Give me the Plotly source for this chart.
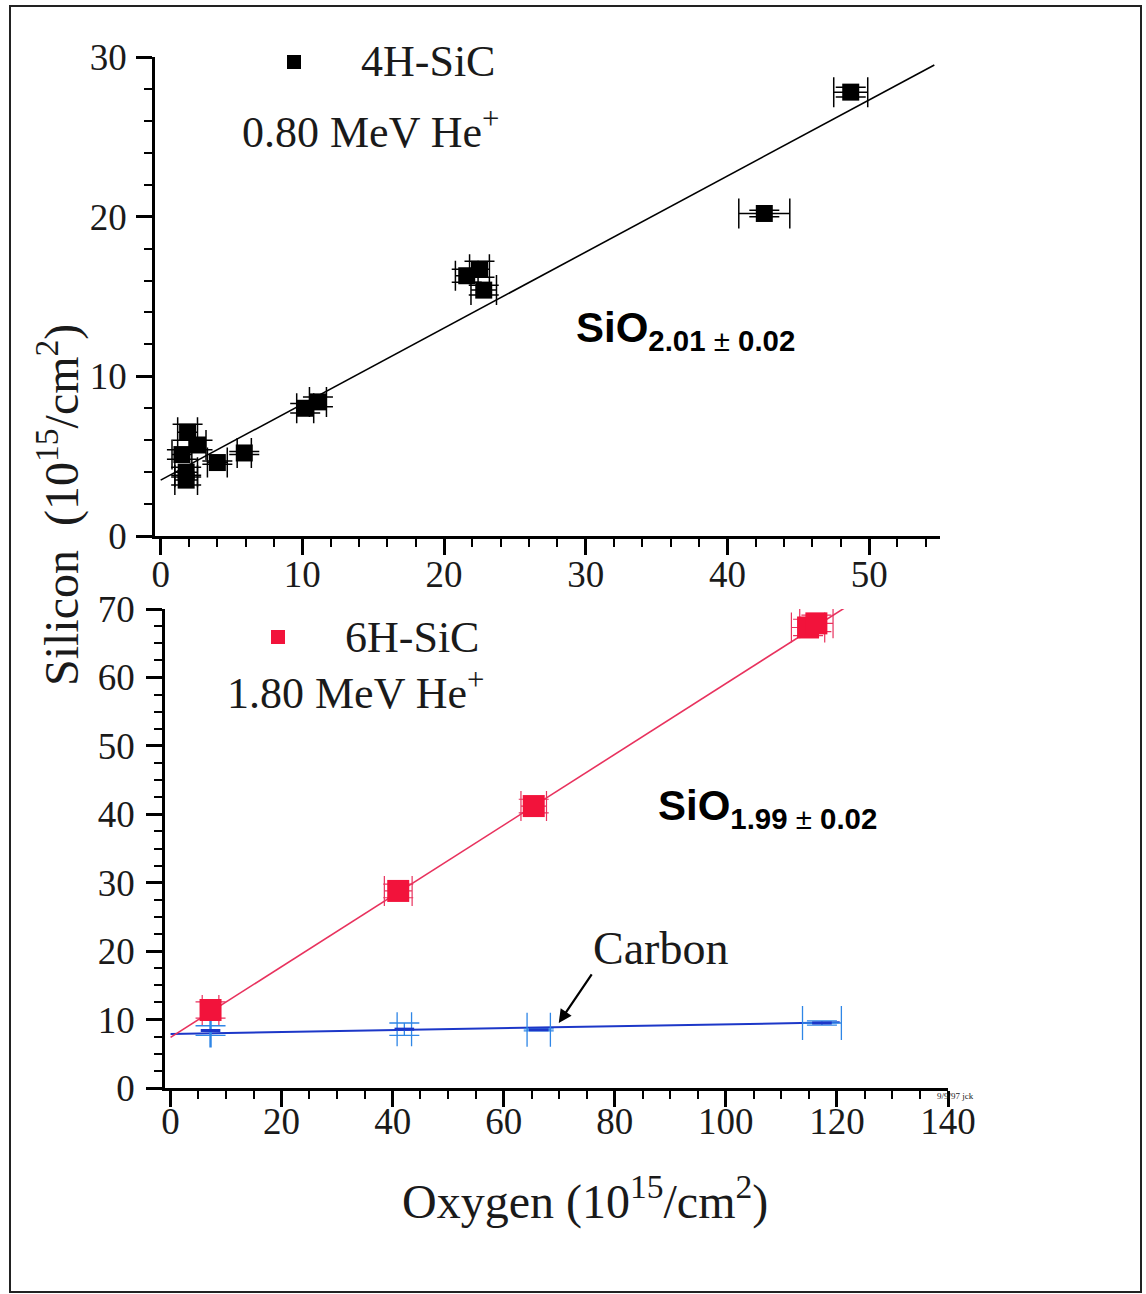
import plotly.graph_objects as go

W, H = 1146, 1294


def px(x):
    return x / W


def py(y):
    return 1 - y / H


# ---------------- data ----------------
# Top panel: 4H-SiC, 0.80 MeV He+
top_oxygen = [1.9, 1.5, 2.6, 1.8, 1.8, 4.0, 5.9, 10.2, 11.1, 21.6, 22.5, 22.8, 42.6, 48.7]
top_silicon = [6.5, 5.1, 5.7, 4.0, 3.5, 4.6, 5.2, 8.0, 8.4, 16.3, 16.7, 15.4, 20.2, 27.8]
top_oxygen_err = [0.7, 0.7, 0.6, 0.8, 0.8, 0.7, 0.5, 0.6, 0.6, 0.8, 0.7, 0.9, 1.8, 1.2]
top_silicon_err = [0.5, 0.3, 0.3, 0.3, 0.3, 0.1, 0.1, 0.3, 0.3, 0.4, 0.5, 0.3, 0.2, 0.3]
top_fit_x = [0.0, 54.6]
top_fit_y = [3.5, 29.5]

# Bottom panel: 6H-SiC, 1.80 MeV He+
red_oxygen = [7.2, 41.0, 65.4, 114.8, 116.3]
red_silicon = [11.4, 28.8, 41.2, 67.3, 67.9]
red_oxygen_err = [1.5, 2.5, 2.3, 3.0, 3.0]
red_silicon_err = [1.2, 1.0, 1.0, 1.2, 1.2]
red_fit_x = [0.0, 123.4]
red_fit_y = [7.4, 71.2]

carbon_oxygen = [7.2, 42.1, 66.3, 117.3]
carbon_value = [8.4, 8.6, 8.5, 9.5]
carbon_oxygen_err = [0.1, 1.3, 2.1, 3.5]
carbon_value_err = [0.7, 0.9, 0.15, 0.3]
carbon_fit_x = [0.0, 120.5]
carbon_fit_y = [7.9, 9.6]

RED = "#f2133b"
RED_LINE = "#e8325e"
BLUE = "#1c37c8"
BLUE_ERR = "#2f86e6"
SERIF = "Liberation Serif"

fig = go.Figure()

fig.add_trace(go.Scatter(x=top_fit_x, y=top_fit_y, mode="lines",
                         line=dict(color="black", width=1.6),
                         xaxis="x", yaxis="y", showlegend=False, hoverinfo="skip"))
fig.add_trace(go.Scatter(
    x=top_oxygen, y=top_silicon, mode="markers",
    marker=dict(symbol="square", size=17, color="black"),
    error_x=dict(type="data", array=top_oxygen_err, color="black", thickness=1.5, width=15),
    error_y=dict(type="data", array=top_silicon_err, color="black", thickness=1.5, width=15),
    xaxis="x", yaxis="y", showlegend=False))

fig.add_trace(go.Scatter(x=carbon_fit_x, y=carbon_fit_y, mode="lines",
                         line=dict(color=BLUE, width=2),
                         xaxis="x2", yaxis="y2", showlegend=False, hoverinfo="skip"))
fig.add_trace(go.Scatter(
    x=carbon_oxygen, y=carbon_value, mode="markers",
    marker=dict(symbol="line-ew", size=14, color=BLUE, line=dict(color=BLUE, width=3)),
    error_x=dict(type="data", array=carbon_oxygen_err, color=BLUE_ERR, thickness=1.3, width=17),
    error_y=dict(type="data", array=carbon_value_err, color=BLUE_ERR, thickness=1.3, width=15),
    xaxis="x2", yaxis="y2", showlegend=False))

fig.add_trace(go.Scatter(x=red_fit_x, y=red_fit_y, mode="lines",
                         line=dict(color=RED_LINE, width=1.6),
                         xaxis="x2", yaxis="y2", showlegend=False, hoverinfo="skip"))
fig.add_trace(go.Scatter(
    x=red_oxygen, y=red_silicon, mode="markers",
    marker=dict(symbol="square", size=22, color=RED),
    error_x=dict(type="data", array=red_oxygen_err, color=RED_LINE, thickness=1.2, width=15),
    error_y=dict(type="data", array=red_silicon_err, color=RED_LINE, thickness=1.2, width=15),
    xaxis="x2", yaxis="y2", showlegend=False))

axis_common = dict(
    showgrid=False, zeroline=False, showline=True, linecolor="black", linewidth=2.5,
    ticks="outside", ticklen=16, tickwidth=2.5, tickcolor="black",
    tickfont=dict(family=SERIF, size=37, color="#1a1a1a"),
    mirror=False, fixedrange=True, automargin=False,
)
minor_common = dict(ticklen=8, tickwidth=2, tickcolor="black", ticks="outside", tick0=0)

fig.update_layout(
    width=W, height=H,
    margin=dict(l=0, r=0, t=0, b=0, pad=0, autoexpand=False),
    paper_bgcolor="white", plot_bgcolor="white",
    xaxis=dict(axis_common, domain=[px(155), px(940)], range=[-0.4, 55], anchor="y",
               tickvals=[0, 10, 20, 30, 40, 50], ticklabelstandoff=-12,
               minor=dict(minor_common, dtick=2)),
    yaxis=dict(axis_common, domain=[py(536), py(57)], range=[0, 30], anchor="x",
               tickvals=[0, 10, 20, 30], ticklabelstandoff=2,
               minor=dict(minor_common, dtick=2)),
    xaxis2=dict(axis_common, domain=[px(165), px(948)], range=[-1, 140], anchor="y2",
                tickvals=[0, 20, 40, 60, 80, 100, 120, 140], ticklabelstandoff=-17,
                minor=dict(minor_common, dtick=5)),
    yaxis2=dict(axis_common, domain=[py(1088), py(609)], range=[0, 70], anchor="x2",
                tickvals=[0, 10, 20, 30, 40, 50, 60, 70], ticklabelstandoff=4,
                minor=dict(minor_common, dtick=2.5)),
)

# frame border
fig.add_shape(type="rect", xref="paper", yref="paper",
              x0=px(10), x1=px(1141), y0=py(1292), y1=py(6),
              line=dict(color="#222", width=2), fillcolor="rgba(0,0,0,0)", layer="below")

# legend squares
fig.add_shape(type="rect", xref="paper", yref="paper",
              x0=px(287), x1=px(301), y0=py(69), y1=py(55),
              line=dict(width=0), fillcolor="black")
fig.add_shape(type="rect", xref="paper", yref="paper",
              x0=px(271), x1=px(285), y0=py(644), y1=py(630),
              line=dict(width=0), fillcolor=RED)


def note(text, x, y, size, family=SERIF, color="#1a1a1a", angle=0, xanchor="center"):
    fig.add_annotation(text=text, x=px(x), y=py(y), xref="paper", yref="paper",
                       showarrow=False, xanchor=xanchor, yanchor="middle",
                       textangle=angle, font=dict(family=family, size=size, color=color))


note("4H-SiC", 428, 62, 44)
note("0.80 MeV He<sup>+</sup>", 370, 130, 44)
note("6H-SiC", 412, 637, 44)
note("1.80 MeV He<sup>+</sup>", 355, 690, 44)
note("<b>SiO</b><sub><b>2.01</b> ± <b>0.02</b></sub>", 574, 330, 42,
     family="Liberation Sans", color="black", xanchor="left")
note("<b>SiO</b><sub><b>1.99</b> ± <b>0.02</b></sub>", 656, 808, 42,
     family="Liberation Sans", color="black", xanchor="left")
note("Carbon", 660, 948, 46)
note("9/9/97 jck", 955, 1096, 9)
note("Silicon  (10<sup>15</sup>/cm<sup>2</sup>)", 58, 505, 48, angle=-90)
note("Oxygen (10<sup>15</sup>/cm<sup>2</sup>)", 585, 1198, 48)

fig.add_annotation(x=69.9, y=9.5, xref="x2", yref="y2", ax=34, ay=-50,
                   showarrow=True, arrowhead=2, arrowsize=1.2, arrowwidth=2.2,
                   arrowcolor="black", text="")

fig.write_html("out.html",
               post_script="document.body.style.margin='0';document.body.style.padding='0';")
